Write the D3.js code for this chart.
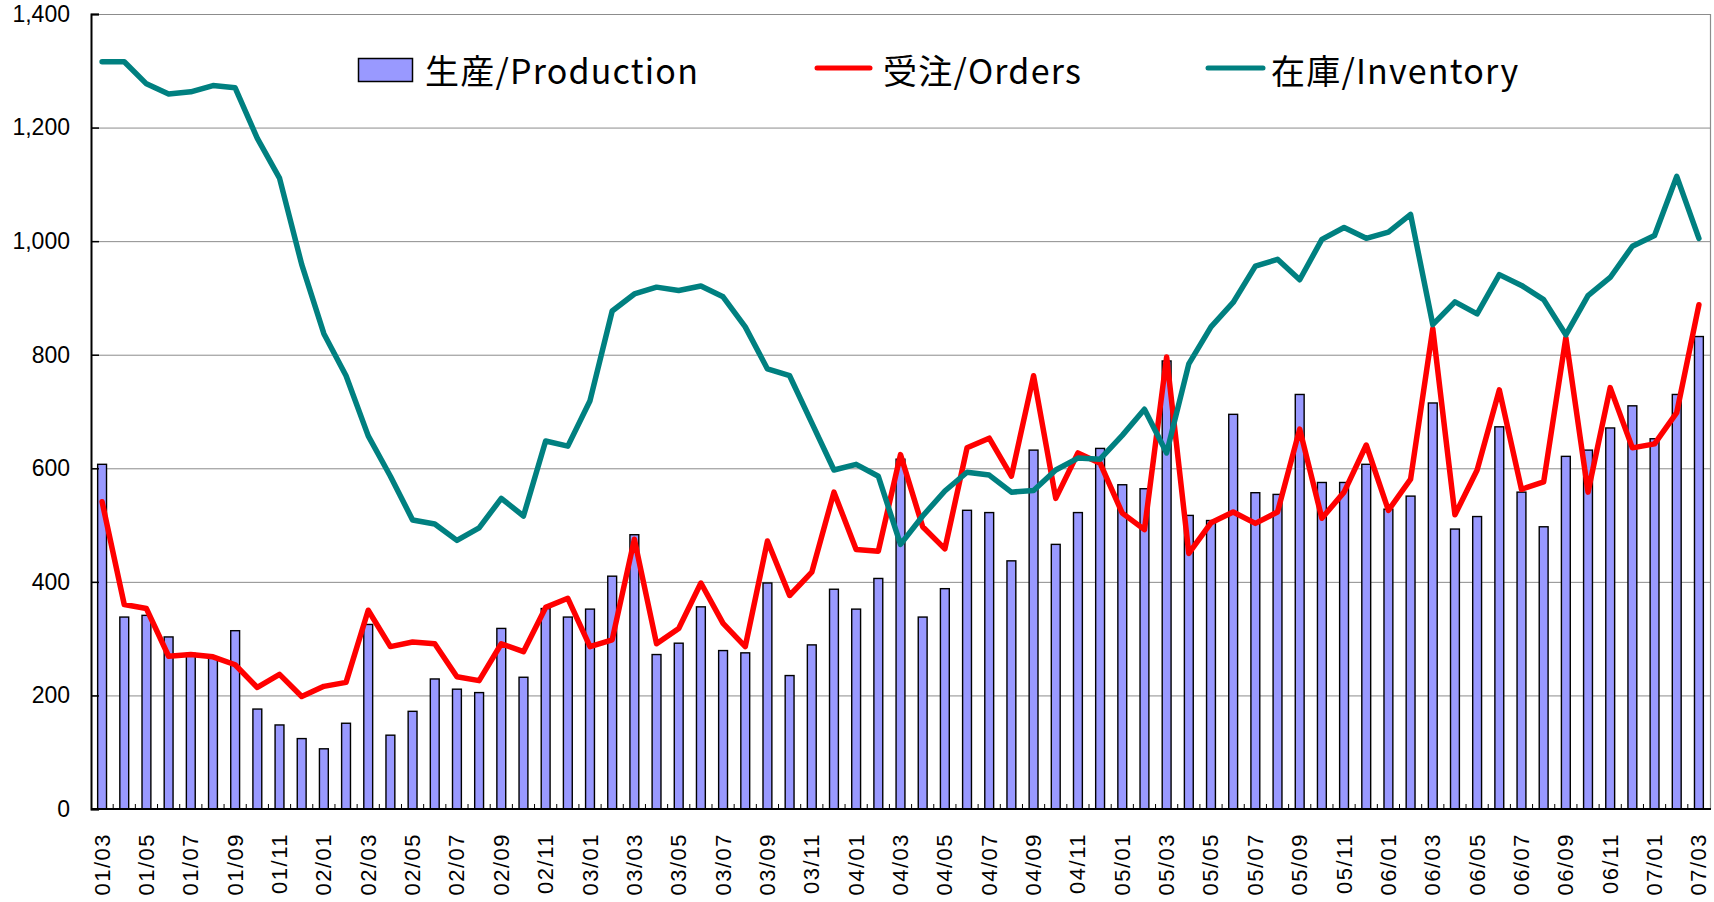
<!DOCTYPE html>
<html>
<head>
<meta charset="utf-8">
<script src="https://cdn.jsdelivr.net/npm/d3@7/dist/d3.min.js"></script>
<style>
  html, body { margin: 0; padding: 0; background: #fff; }
  svg { display: block; }
</style>
</head>
<body>
<svg id="chart" width="1714" height="902"></svg>
<script>
const categories = [
  "01/03","01/04","01/05","01/06","01/07","01/08","01/09","01/10","01/11","01/12",
  "02/01","02/02","02/03","02/04","02/05","02/06","02/07","02/08","02/09","02/10","02/11","02/12",
  "03/01","03/02","03/03","03/04","03/05","03/06","03/07","03/08","03/09","03/10","03/11","03/12",
  "04/01","04/02","04/03","04/04","04/05","04/06","04/07","04/08","04/09","04/10","04/11","04/12",
  "05/01","05/02","05/03","05/04","05/05","05/06","05/07","05/08","05/09","05/10","05/11","05/12",
  "06/01","06/02","06/03","06/04","06/05","06/06","06/07","06/08","06/09","06/10","06/11","06/12",
  "07/01","07/02","07/03"
];

const production = [
  607,338,341,303,274,267,314,176,148,124,
  106,151,325,130,172,229,211,205,318,232,353,338,
  352,410,483,272,292,356,279,275,398,235,289,387,
  352,406,616,338,388,526,522,437,632,466,522,635,
  571,564,789,517,508,695,557,554,730,575,575,607,
  528,551,715,493,515,673,558,497,621,632,671,710,
  652,730,832
];

const orders = [
  541,360,353,269,272,268,254,214,237,198,
  216,223,350,286,294,291,233,226,291,277,355,371,
  286,298,475,291,318,398,327,286,472,376,417,558,
  457,454,624,497,458,636,653,586,763,547,627,609,
  521,492,796,450,504,523,503,523,669,512,558,641,
  526,581,846,518,597,738,563,576,830,558,742,636,
  643,698,888
];

const inventory = [
  1316,1316,1277,1259,1263,1274,1270,1181,1111,959,
  837,763,657,586,509,502,473,495,547,516,648,639,
  719,877,907,919,913,921,902,849,775,763,680,597,
  607,586,466,516,560,593,588,558,561,597,618,616,
  658,704,627,784,849,892,956,968,932,1003,1024,1005,
  1016,1047,853,893,872,941,922,897,835,904,936,991,
  1010,1114,1005
];

const yTicks = [0,200,400,600,800,1000,1200,1400];

const seriesNames = ["生産/Production", "受注/Orders", "在庫/Inventory"];

const svg = d3.select("#chart");
const pLeft = 91, pRight = 1710, pTop = 14, pBottom = 809;

const x = d3.scaleBand().domain(categories).range([pLeft, pRight]).paddingInner(0).paddingOuter(0);
const y = d3.scaleLinear().domain([0, 1400]).range([pBottom, pTop]);
const bw = x.bandwidth();

// gridlines
svg.append("g").selectAll("line").data(yTicks.filter(d => d > 0)).join("line")
  .attr("x1", pLeft).attr("x2", pRight)
  .attr("y1", d => y(d) + 0.5).attr("y2", d => y(d) + 0.5)
  .attr("stroke", "#8c8c8c").attr("stroke-width", 1);
// right border
svg.append("line").attr("x1", pRight + 0.5).attr("x2", pRight + 0.5)
  .attr("y1", pTop).attr("y2", pBottom).attr("stroke", "#8c8c8c").attr("stroke-width", 1.2);

// bars
const barW = bw * 0.4;
svg.append("g").selectAll("rect").data(production).join("rect")
  .attr("x", (d, i) => x(categories[i]) + (bw - barW) / 2)
  .attr("y", d => y(d))
  .attr("width", barW)
  .attr("height", d => y(0) - y(d))
  .attr("fill", "#9999ff")
  .attr("stroke", "#000")
  .attr("stroke-width", 1.4);

// lines
const lineGen = d3.line()
  .x((d, i) => x(categories[i]) + bw / 2)
  .y(d => y(d));

svg.append("path").datum(orders)
  .attr("d", lineGen).attr("fill", "none")
  .attr("stroke", "#ff0000").attr("stroke-width", 5.5)
  .attr("stroke-linejoin", "round").attr("stroke-linecap", "round");

svg.append("path").datum(inventory)
  .attr("d", lineGen).attr("fill", "none")
  .attr("stroke", "#008080").attr("stroke-width", 5.5)
  .attr("stroke-linejoin", "round").attr("stroke-linecap", "round");

// Y axis
const yAxis = d3.axisLeft(y).tickValues(yTicks).tickSize(-8).tickPadding(21)
  .tickFormat(d3.format(","));
const gy = svg.append("g").attr("transform", `translate(${pLeft},0)`).call(yAxis);
gy.select(".domain").attr("stroke", "#000").attr("stroke-width", 2);
gy.selectAll(".tick line").attr("stroke", "#000").attr("stroke-width", 1.5);
gy.selectAll(".tick text").attr("font-family", "'Liberation Sans', Arial, sans-serif")
  .attr("font-size", 23).attr("fill", "#000");

// X axis
svg.append("line").attr("x1", pLeft).attr("x2", pRight + 1)
  .attr("y1", pBottom).attr("y2", pBottom).attr("stroke", "#000").attr("stroke-width", 2);
svg.append("g").selectAll("line").data(categories.slice(1)).join("line")
  .attr("x1", d => x(d)).attr("x2", d => x(d))
  .attr("y1", pBottom).attr("y2", pBottom - 5)
  .attr("stroke", "#000").attr("stroke-width", 1);

svg.append("g").selectAll("text").data(categories.filter((d, i) => i % 2 === 0)).join("text")
  .attr("transform", d => `translate(${x(d) + bw / 2},833) rotate(-90)`)
  .attr("text-anchor", "end")
  .attr("dominant-baseline", "central")
  .attr("font-family", "'Liberation Sans', Arial, sans-serif")
  .attr("font-size", 22)
  .attr("letter-spacing", 1.5)
  .attr("fill", "#000")
  .text(d => d);

// Legend
const lg = svg.append("g").attr("font-family", "'Noto Sans CJK JP', sans-serif")
  .attr("font-size", 34).attr("letter-spacing", 1.2).attr("fill", "#000");
lg.append("rect").attr("x", 358.5).attr("y", 58.5).attr("width", 54).attr("height", 23)
  .attr("fill", "#9999ff").attr("stroke", "#000").attr("stroke-width", 1.5);
lg.append("text").attr("x", 425).attr("y", 69).attr("dominant-baseline", "central").text(seriesNames[0]);
lg.append("line").attr("x1", 817).attr("x2", 870).attr("y1", 68).attr("y2", 68)
  .attr("stroke", "#ff0000").attr("stroke-width", 5).attr("stroke-linecap", "round");
lg.append("text").attr("x", 883).attr("y", 69).attr("dominant-baseline", "central").text(seriesNames[1]);
lg.append("line").attr("x1", 1208).attr("x2", 1263).attr("y1", 68).attr("y2", 68)
  .attr("stroke", "#008080").attr("stroke-width", 5).attr("stroke-linecap", "round");
lg.append("text").attr("x", 1271).attr("y", 69).attr("dominant-baseline", "central").text(seriesNames[2]);
</script>
</body>
</html>
